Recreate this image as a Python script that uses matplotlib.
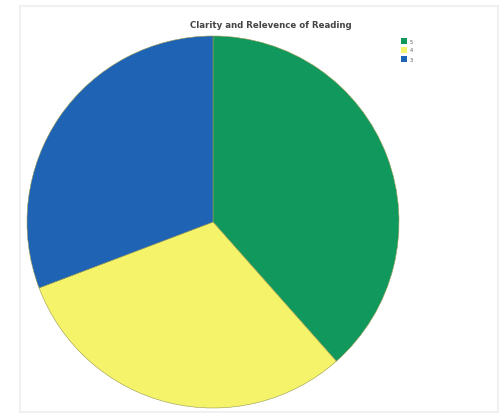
import matplotlib.pyplot as plt
from matplotlib.patches import Rectangle

# slice counts (green, yellow, blue)
labels = ["5", "4", "3"]
counts = [5, 4, 4]
colors = ["#11985c", "#f4f36a", "#1f63b4"]
title = "Clarity and Relevence of Reading"

fig = plt.figure(figsize=(5, 4.14), dpi=100)
ax = fig.add_axes([0, 0, 1, 1])

wedges, _ = ax.pie(counts, colors=colors, startangle=90, counterclock=False,
                   center=(213, 191), radius=186, frame=True,
                   wedgeprops=dict(edgecolor="#9a9a50", linewidth=0.4))
ax.set_xlim(0, 500)
ax.set_ylim(0, 414)
ax.set_aspect("equal")
ax.axis("off")

# faint outer frame
ax.add_patch(Rectangle((20, 1), 478, 406, fill=False, edgecolor="#f0f2f2", linewidth=1.5))

ax.text(271, 389, title, ha="center", va="center", fontsize=6.2,
        fontweight="bold", color="#444444")

# small legend
for i, (lab, c) in enumerate(zip(labels, colors)):
    y = 372 - i * 9
    ax.add_patch(Rectangle((401, y - 3), 6, 6, facecolor=c, edgecolor="none"))
    ax.text(410, y, lab, fontsize=3.5, va="center", ha="left", color="#555555")

fig.savefig("out.png", dpi=100)
